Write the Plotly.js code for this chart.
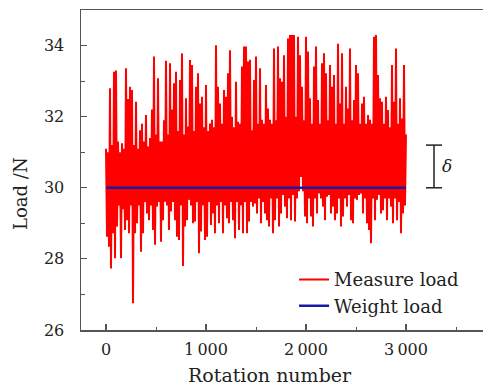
<!DOCTYPE html>
<html>
<head>
<meta charset="utf-8">
<script src="https://cdn.plot.ly/plotly-3.0.1.min.js"></script>
<style>html,body{margin:0;padding:0;background:#fff;overflow:hidden}</style>
</head>
<body>
<div id="chart" style="width:483px;height:386px"></div>
<script>
// Rotation step between samples
const rotationStep = 10;
const measureLoad = [
31.1,28.62,31.0,28.34,32.8,27.73,31.2,28.72,33.26,28.02,
33.3,28.91,31.3,29.5,31.0,28.02,31.25,29.4,31.1,28.81,
33.36,29.09,32.5,28.72,32.84,29.5,32.75,26.75,31.2,28.72,
32.42,29.0,31.1,29.5,31.62,28.2,31.8,28.72,31.3,29.6,
32.05,29.28,31.16,29.09,31.4,29.5,32.2,28.81,33.69,28.4,
31.5,29.47,33.08,29.6,31.3,28.48,31.3,29.09,31.9,29.61,
33.57,29.5,31.5,28.81,33.5,29.33,32.2,29.6,32.94,29.09,
33.26,28.62,31.6,28.53,33.03,29.5,33.78,27.8,31.5,28.91,
32.52,29.09,31.72,29.66,33.59,29.5,33.45,29.0,31.6,29.05,
32.84,29.6,33.22,28.16,32.37,28.77,32.56,29.5,31.7,28.53,
32.89,28.62,31.6,29.6,31.81,28.95,31.91,29.28,31.7,28.72,
34.01,29.5,32.84,29.0,32.37,29.6,31.8,28.72,32.75,29.5,
32.56,29.14,33.22,29.0,33.87,29.6,32.0,29.09,31.7,28.58,
32.98,29.6,31.86,28.81,31.8,29.5,33.41,28.72,33.97,29.6,
33.97,28.72,33.55,29.05,33.6,29.6,31.62,29.47,33.03,29.56,
33.69,29.28,31.8,29.7,33.36,29.0,31.91,29.6,31.8,29.28,
32.89,29.09,32.23,28.91,31.91,29.7,31.8,28.72,33.92,29.09,
31.9,29.7,33.97,28.91,33.08,29.28,32.98,29.8,33.73,29.47,
32.0,29.14,34.2,29.7,34.3,29.09,34.3,29.8,34.3,29.05,
32.0,29.7,34.25,29.9,33.73,30.3,32.84,29.9,31.9,29.19,
34.25,29.0,33.83,29.7,32.52,29.19,31.8,28.91,33.41,29.7,
33.97,29.28,32.47,29.84,31.8,29.7,33.5,29.47,33.78,29.09,
33.22,29.75,31.9,29.8,33.45,29.28,32.84,29.47,33.17,29.09,
31.8,29.28,34.05,29.7,32.37,28.91,33.78,29.19,31.8,29.7,
32.84,29.47,32.23,29.8,33.92,29.09,31.9,29.0,32.47,29.7,
33.45,29.66,33.22,29.8,31.8,29.84,32.37,29.28,32.56,29.7,
31.8,29.0,32.05,28.81,31.91,28.44,31.8,29.7,34.25,29.09,
34.3,29.66,33.17,29.8,32.52,29.28,32.42,29.37,31.8,29.7,
32.56,29.09,32.19,29.7,31.7,29.47,33.45,29.0,32.42,29.7,
33.92,29.09,31.8,29.6,32.52,28.72,31.95,29.28,33.45,29.5,
31.5
];
const rotations = measureLoad.map((_, i) => i * rotationStep);
// Weight load (constant reference)
const weightX = [0, 3000];
const weightY = [30, 30];
// Axis ticks
const xTickVals = [0, 1000, 2000, 3000];
const xTickText = ['0', '1\u2009000', '2\u2009000', '3\u2009000'];
const yTickVals = [26, 28, 30, 32, 34];
// Delta bracket (range of fluctuation)
const deltaX = 3280;
const deltaLow = 30;
const deltaHigh = 31.2;

const FONT = '"DejaVu Serif", serif';
const AX = '#555';

const traces = [
  {x: rotations, y: measureLoad, type: 'scatter', mode: 'lines', name: 'Measure load',
   line: {color: '#ff0000', width: 2}, legendgroup: 'a'},
  {x: weightX, y: weightY, type: 'scatter', mode: 'lines', name: 'Weight load',
   line: {color: '#1a1aa8', width: 2.5}, legendgroup: 'b'}
];

const layout = {
  width: 483, height: 386,
  margin: {l: 81, r: 0, t: 10, b: 56, pad: 0},
  paper_bgcolor: '#fff', plot_bgcolor: '#fff',
  font: {family: FONT, color: '#222', size: 16},
  showlegend: true,
  legend: {x: 0.53, y: 0.215, xanchor: 'left', yanchor: 'top', bgcolor: 'rgba(0,0,0,0)',
           font: {family: FONT, size: 18, color: '#222'}, tracegroupgap: 0, traceorder: 'grouped'},
  xaxis: {range: [-250, 3770], showgrid: false, zeroline: false,
          showline: true, linecolor: AX, linewidth: 1.5, mirror: true,
          ticks: 'inside', ticklen: 6, tickcolor: AX, tickwidth: 1.2,
          tickmode: 'array', tickvals: xTickVals, ticktext: xTickText,
          tickfont: {family: FONT, size: 16, color: '#222'}, ticklabelstandoff: 4,
          minor: {tickmode: 'linear', tick0: 0, dtick: 500, ticks: 'inside', ticklen: 3.5, tickcolor: AX, tickwidth: 1}},
  yaxis: {range: [26, 35], showgrid: false, zeroline: false,
          showline: true, linecolor: AX, linewidth: 1.5, mirror: false,
          ticks: 'inside', ticklen: 6, tickcolor: AX, tickwidth: 1.2,
          tickmode: 'array', tickvals: yTickVals,
          tickfont: {family: FONT, size: 16, color: '#222'}, ticklabelstandoff: 12,
          minor: {tickmode: 'linear', tick0: 26, dtick: 1, ticks: 'inside', ticklen: 3.5, tickcolor: AX, tickwidth: 1}},
  shapes: [
    {type: 'line', xref: 'x', yref: 'y', x0: deltaX, x1: deltaX, y0: deltaLow, y1: deltaHigh, line: {color: '#222', width: 1.5}},
    {type: 'line', xref: 'x', yref: 'y', x0: deltaX - 80, x1: deltaX + 80, y0: deltaLow, y1: deltaLow, line: {color: '#222', width: 1.5}},
    {type: 'line', xref: 'x', yref: 'y', x0: deltaX - 80, x1: deltaX + 80, y0: deltaHigh, y1: deltaHigh, line: {color: '#222', width: 1.5}}
  ],
  annotations: [
    {text: '<i>δ</i>', xref: 'x', yref: 'y', x: deltaX + 130, y: (deltaLow + deltaHigh) / 2, xanchor: 'center', yanchor: 'middle',
     showarrow: false, font: {family: FONT, size: 17, color: '#222'}},
    {text: 'Rotation number', xref: 'paper', yref: 'paper', x: 0.47, y: -0.14, xanchor: 'center', yanchor: 'middle',
     showarrow: false, font: {family: FONT, size: 19, color: '#222'}},
    {text: 'Load /N', xref: 'paper', yref: 'paper', x: -0.152, y: 0.428, xanchor: 'center', yanchor: 'middle',
     textangle: -90, showarrow: false, font: {family: FONT, size: 18, color: '#222'}}
  ]
};

Plotly.newPlot('chart', traces, layout, {staticPlot: true, displayModeBar: false});
</script>
</body>
</html>
